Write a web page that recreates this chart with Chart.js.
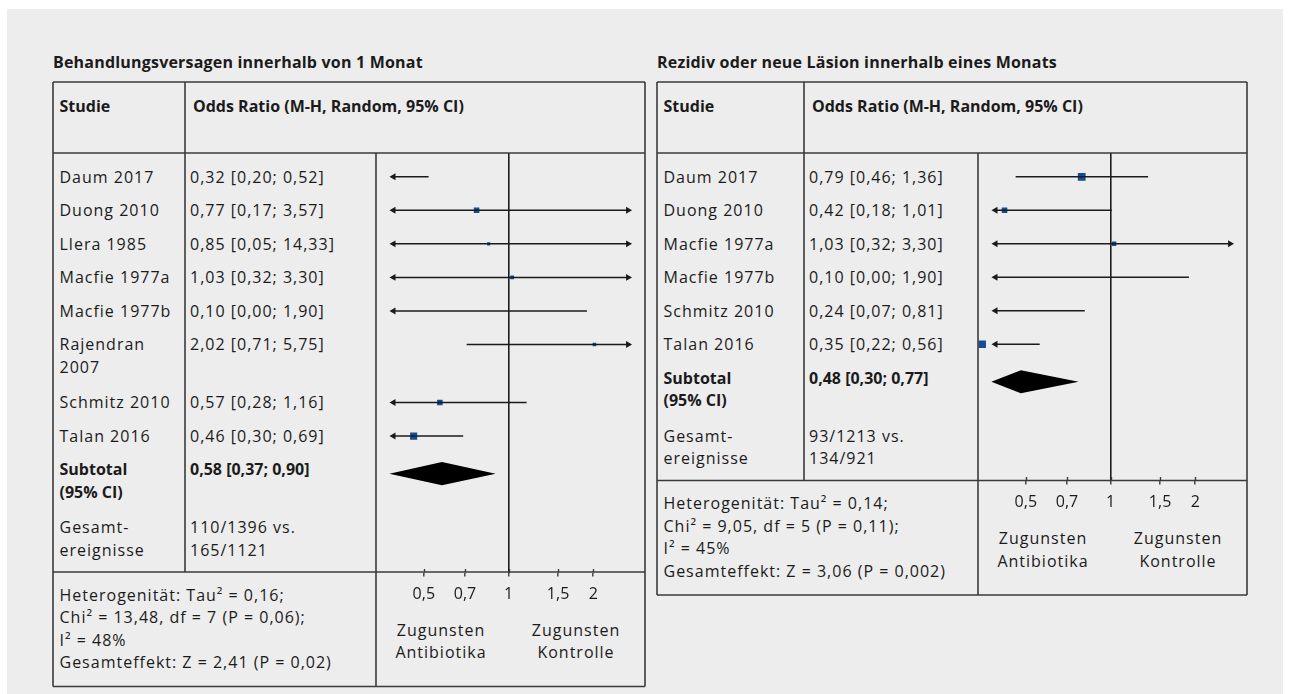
<!DOCTYPE html>
<html lang="de">
<head>
<meta charset="utf-8">
<title>Forest-Plots: Antibiotika vs. Kontrolle</title>
<script src="https://cdn.jsdelivr.net/npm/chart.js@4.4.1/dist/chart.umd.min.js"></script>
<style>
  html, body { margin: 0; padding: 0; background: #ffffff; }
  body { width: 1290px; height: 694px; position: relative; overflow: hidden;
         font-family: 'Open Sans', 'Noto Sans', sans-serif; color: #1b1b1b; }
  #sheet { position: absolute; left: 7px; top: 9px; width: 1276px; height: 685px; background: #ededed; }
  .t { position: absolute; font-size: 16px; line-height: 22.5px; letter-spacing: 1px; white-space: pre-line; }
  .b { font-weight: 700; letter-spacing: 0; }
  .nw { white-space: pre; }
  .c { text-align: center; }
  .title { position: absolute; font-size: 16px; font-weight: 700; letter-spacing: 0.2px; line-height: 22px; white-space: nowrap; }
  canvas { position: absolute; }
  #lines { position: absolute; left: 0; top: 0; }
</style>
</head>
<body>
<div id="sheet"></div>
<div id="root"></div>
<svg id="lines" width="1290" height="694" xmlns="http://www.w3.org/2000/svg"></svg>
<script>
// ---------- Panel 1: Behandlungsversagen innerhalb von 1 Monat ----------
const studies1 = ['Daum 2017', 'Duong 2010', 'Llera 1985', 'Macfie 1977a', 'Macfie 1977b', 'Rajendran 2007', 'Schmitz 2010', 'Talan 2016'];
const or1      = [0.32, 0.77, 0.85, 1.03, 0.10, 2.02, 0.57, 0.46];
const lower1   = [0.20, 0.17, 0.05, 0.32, 0.00, 0.71, 0.28, 0.30];
const upper1   = [0.52, 3.57, 14.33, 3.30, 1.90, 5.75, 1.16, 0.69];
const weights1 = [36, 13, 4, 6, 1.5, 5.5, 13, 21];      // relative study weights
const pooled1  = [0.58, 0.37, 0.90];                    // OR, lower, upper
const events1  = ['110/1396', '165/1121'];              // Antibiotika vs. Kontrolle
const stats1   = ['Heterogenität: Tau² = 0,16;', 'Chi² = 13,48, df = 7 (P = 0,06);', 'I² = 48%', 'Gesamteffekt: Z = 2,41 (P = 0,02)'];

// ---------- Panel 2: Rezidiv oder neue Läsion innerhalb eines Monats ----------
const studies2 = ['Daum 2017', 'Duong 2010', 'Macfie 1977a', 'Macfie 1977b', 'Schmitz 2010', 'Talan 2016'];
const or2      = [0.79, 0.42, 1.03, 0.10, 0.24, 0.35];
const lower2   = [0.46, 0.18, 0.32, 0.00, 0.07, 0.22];
const upper2   = [1.36, 1.01, 3.30, 1.90, 0.81, 0.56];
const weights2 = [25, 13, 8, 2, 10, 23];                // relative study weights
const pooled2  = [0.48, 0.30, 0.77];
const events2  = ['93/1213', '134/921'];
const stats2   = ['Heterogenität: Tau² = 0,14;', 'Chi² = 9,05, df = 5 (P = 0,11);', 'I² = 45%', 'Gesamteffekt: Z = 3,06 (P = 0,002)'];

// ---------- shared axis ----------
const tickValues = [0.5, 0.7, 1, 1.5, 2];
const AXIS_MIN = 0.338, AXIS_MAX = 3.056;   // visible odds-ratio range of the plot column
const CLIP_LO = 0.39, CLIP_HI = 2.66;       // CIs beyond these end in an arrow
const TIP_LO = 0.377, TIP_HI = 2.74;        // reach of the arrow tips (diamond limit)

const FONT = "'Open Sans', 'Noto Sans', sans-serif";
const INK = '#1b1b1b', RULE = '#3a3a3a', BLUE = '#124e93';
const LINE = 22.5, PAD = 5.5;

const panels = [
  { title: 'Behandlungsversagen innerhalb von 1 Monat',
    studies: studies1, or: or1, lo: lower1, hi: upper1, w: weights1,
    pooled: pooled1, events: events1, stats: stats1,
    x0: 53, col1: 185, col2: 376, x1: 645, top: 82, header: 153 },
  { title: 'Rezidiv oder neue Läsion innerhalb eines Monats',
    studies: studies2, or: or2, lo: lower2, hi: upper2, w: weights2,
    pooled: pooled2, events: events2, stats: stats2,
    x0: 657, col1: 804, col2: 978, x1: 1247, top: 82, header: 153 }
];

const root = document.getElementById('root');
const svg = document.getElementById('lines');
const fmt = v => v.toFixed(2).replace('.', ',');
const fmtTick = v => String(v).replace('.', ',');

function text(str, x, y, w, cls) {
  const d = document.createElement('div');
  d.className = cls;
  d.style.left = x + 'px';
  d.style.top = y + 'px';
  if (w) d.style.width = w + 'px';
  d.textContent = str;
  root.appendChild(d);
  return d;
}
function rule(x1, y1, x2, y2, color, width) {
  const l = document.createElementNS('http://www.w3.org/2000/svg', 'line');
  l.setAttribute('x1', x1); l.setAttribute('y1', y1);
  l.setAttribute('x2', x2); l.setAttribute('y2', y2);
  l.setAttribute('stroke', color); l.setAttribute('stroke-width', width);
  svg.appendChild(l);
}

// short tick stubs above the axis line (ticks cross the section rule)
const tickStubs = {
  id: 'tickStubs',
  afterDraw(chart) {
    const s = chart.scales.x, ctx = chart.ctx, yb = chart.chartArea.bottom;
    ctx.save();
    ctx.strokeStyle = RULE;
    ctx.lineWidth = 1.4;
    s.ticks.forEach(t => {
      const x = Math.round(s.getPixelForValue(t.value)) + 0.5;
      ctx.beginPath(); ctx.moveTo(x, yb - 3.5); ctx.lineTo(x, yb); ctx.stroke();
    });
    ctx.restore();
  }
};

panels.forEach(p => {
  // title and header row
  text(p.title, p.x0, 50.7, 0, 'title');
  text('Studie', p.x0 + 6.5, p.top + 12.75, 0, 't b nw');
  text('Odds Ratio (M-H, Random, 95% CI)', p.col1 + 8, p.top + 12.75, 0, 't b nw');

  // table body rows
  const rows = p.studies.map((s, i) => ({
    name: s, value: `${fmt(p.or[i])} [${fmt(p.lo[i])}; ${fmt(p.hi[i])}]`, cls: 't' }));
  rows.push({ name: 'Subtotal\n(95% CI)', value: `${fmt(p.pooled[0])} [${fmt(p.pooled[1])}; ${fmt(p.pooled[2])}]`, cls: 't b' });
  rows.push({ name: 'Gesamt-\nereignisse', value: `${p.events[0]} vs.\n${p.events[1]}`, cls: 't' });

  let y = p.header + 7;
  const centers = [];
  rows.forEach(r => {
    const a = text(r.name, p.x0 + 6.5, y + PAD, p.col1 - p.x0 - 9, r.cls);
    const b = text(r.value, p.col1 + 5, y + PAD, p.col2 - p.col1 - 8, r.cls);
    const n = Math.max(Math.round(a.offsetHeight / LINE), Math.round(b.offsetHeight / LINE));
    centers.push(y + PAD + LINE / 2);
    y += n === 1 ? 33.5 : PAD + n * LINE + 7.5;
  });
  const section = y + 3.5;
  const bottom = section + 114.5;

  // statistics block and direction labels
  text(p.stats.join('\n'), p.x0 + 6.5, section + 11.75, 0, 't nw');
  text('Zugunsten\nAntibiotika', p.col2 + 65 - 70, section + 46.75, 140, 't c');
  text('Zugunsten\nKontrolle', p.col2 + 200 - 70, section + 46.75, 140, 't c');

  // table rules
  rule(p.x0, p.top, p.x1, p.top, RULE, 1.6);
  rule(p.x0, bottom, p.x1, bottom, RULE, 1.6);
  rule(p.x0, p.top, p.x0, bottom, RULE, 1.6);
  rule(p.x1, p.top, p.x1, bottom, RULE, 1.6);
  rule(p.x0, p.header, p.x1, p.header, RULE, 1.6);
  rule(p.x0, section, p.x1, section, RULE, 1.6);
  rule(p.col1, p.top, p.col1, section, RULE, 1.6);
  rule(p.col2, p.header, p.col2, bottom, RULE, 1.6);

  // forest plot column
  const W = p.x1 - p.col2, H = Math.round(bottom - p.header);
  const cv = document.createElement('canvas');
  cv.width = W; cv.height = H;
  cv.style.left = p.col2 + 'px'; cv.style.top = p.header + 'px';
  cv.style.width = W + 'px'; cv.style.height = H + 'px';
  root.appendChild(cv);
  const yc = centers.map(c => c - p.header);
  const yMax = section - p.header;

  const datasets = [];
  p.studies.forEach((s, i) => {
    const l = Math.max(p.lo[i], CLIP_LO), h = Math.min(p.hi[i], CLIP_HI);
    datasets.push({
      label: s,
      data: [{ x: l, y: yc[i] }, { x: h, y: yc[i] }],
      showLine: true, borderColor: INK, borderWidth: 1.5,
      pointStyle: 'triangle',
      pointRadius: [p.lo[i] < CLIP_LO ? 4 : 0, p.hi[i] > CLIP_HI ? 4 : 0],
      pointRotation: [270, 90],
      pointBackgroundColor: INK, pointBorderWidth: 0
    });
  });
  // study squares, area proportional to weight
  datasets.push({
    label: 'Odds Ratio',
    data: p.or.map((v, i) => ({ x: v, y: yc[i] })),
    showLine: false, pointStyle: 'rect',
    pointRadius: p.w.map(w => 1.55 * Math.sqrt(w) / Math.SQRT2),
    pointBackgroundColor: BLUE, pointBorderWidth: 0, clip: 0
  });
  // pooled estimate diamond (upper and lower halves filled between)
  const n = p.studies.length;
  const dy = yc[n] + 4, half = 11.5;
  const pl = Math.max(p.pooled[1], TIP_LO), ph = Math.min(p.pooled[2], TIP_HI);
  datasets.push({
    label: 'Subtotal oben',
    data: [{ x: pl, y: dy }, { x: p.pooled[0], y: dy - half }, { x: ph, y: dy }],
    showLine: true, borderWidth: 0, pointRadius: 0, backgroundColor: '#000', tension: 0
  });
  datasets.push({
    label: 'Subtotal unten',
    data: [{ x: pl, y: dy }, { x: p.pooled[0], y: dy + half }, { x: ph, y: dy }],
    showLine: true, borderWidth: 0, pointRadius: 0, backgroundColor: '#000', tension: 0, fill: '-1'
  });

  new Chart(cv, {
    type: 'scatter',
    data: { datasets },
    options: {
      responsive: false, animation: false, events: [],
      layout: { padding: 0, autoPadding: false },
      plugins: { legend: { display: false }, tooltip: { enabled: false } },
      scales: {
        x: {
          type: 'logarithmic', position: 'bottom', min: AXIS_MIN, max: AXIS_MAX, bounds: 'data',
          afterFit: s => { s.height = bottom - section; },
          afterBuildTicks: s => {
            s.ticks = tickValues.map(v => ({ value: v }));
            s.min = AXIS_MIN; s.max = AXIS_MAX;
          },
          border: { display: false },
          grid: {
            drawOnChartArea: true, drawTicks: true, tickLength: 4,
            color: c => (c.tick && c.tick.value === 1) ? '#1e1e1e' : 'rgba(0,0,0,0)',
            lineWidth: 1.6, tickColor: RULE, tickWidth: 1.4
          },
          ticks: {
            autoSkip: false, maxRotation: 0, padding: 8, color: INK,
            font: { family: FONT, size: 16 },
            callback: v => fmtTick(v)
          }
        },
        y: { type: 'linear', display: false, reverse: true, min: 0, max: yMax }
      }
    },
    plugins: [tickStubs]
  });
});
</script>
</body>
</html>
